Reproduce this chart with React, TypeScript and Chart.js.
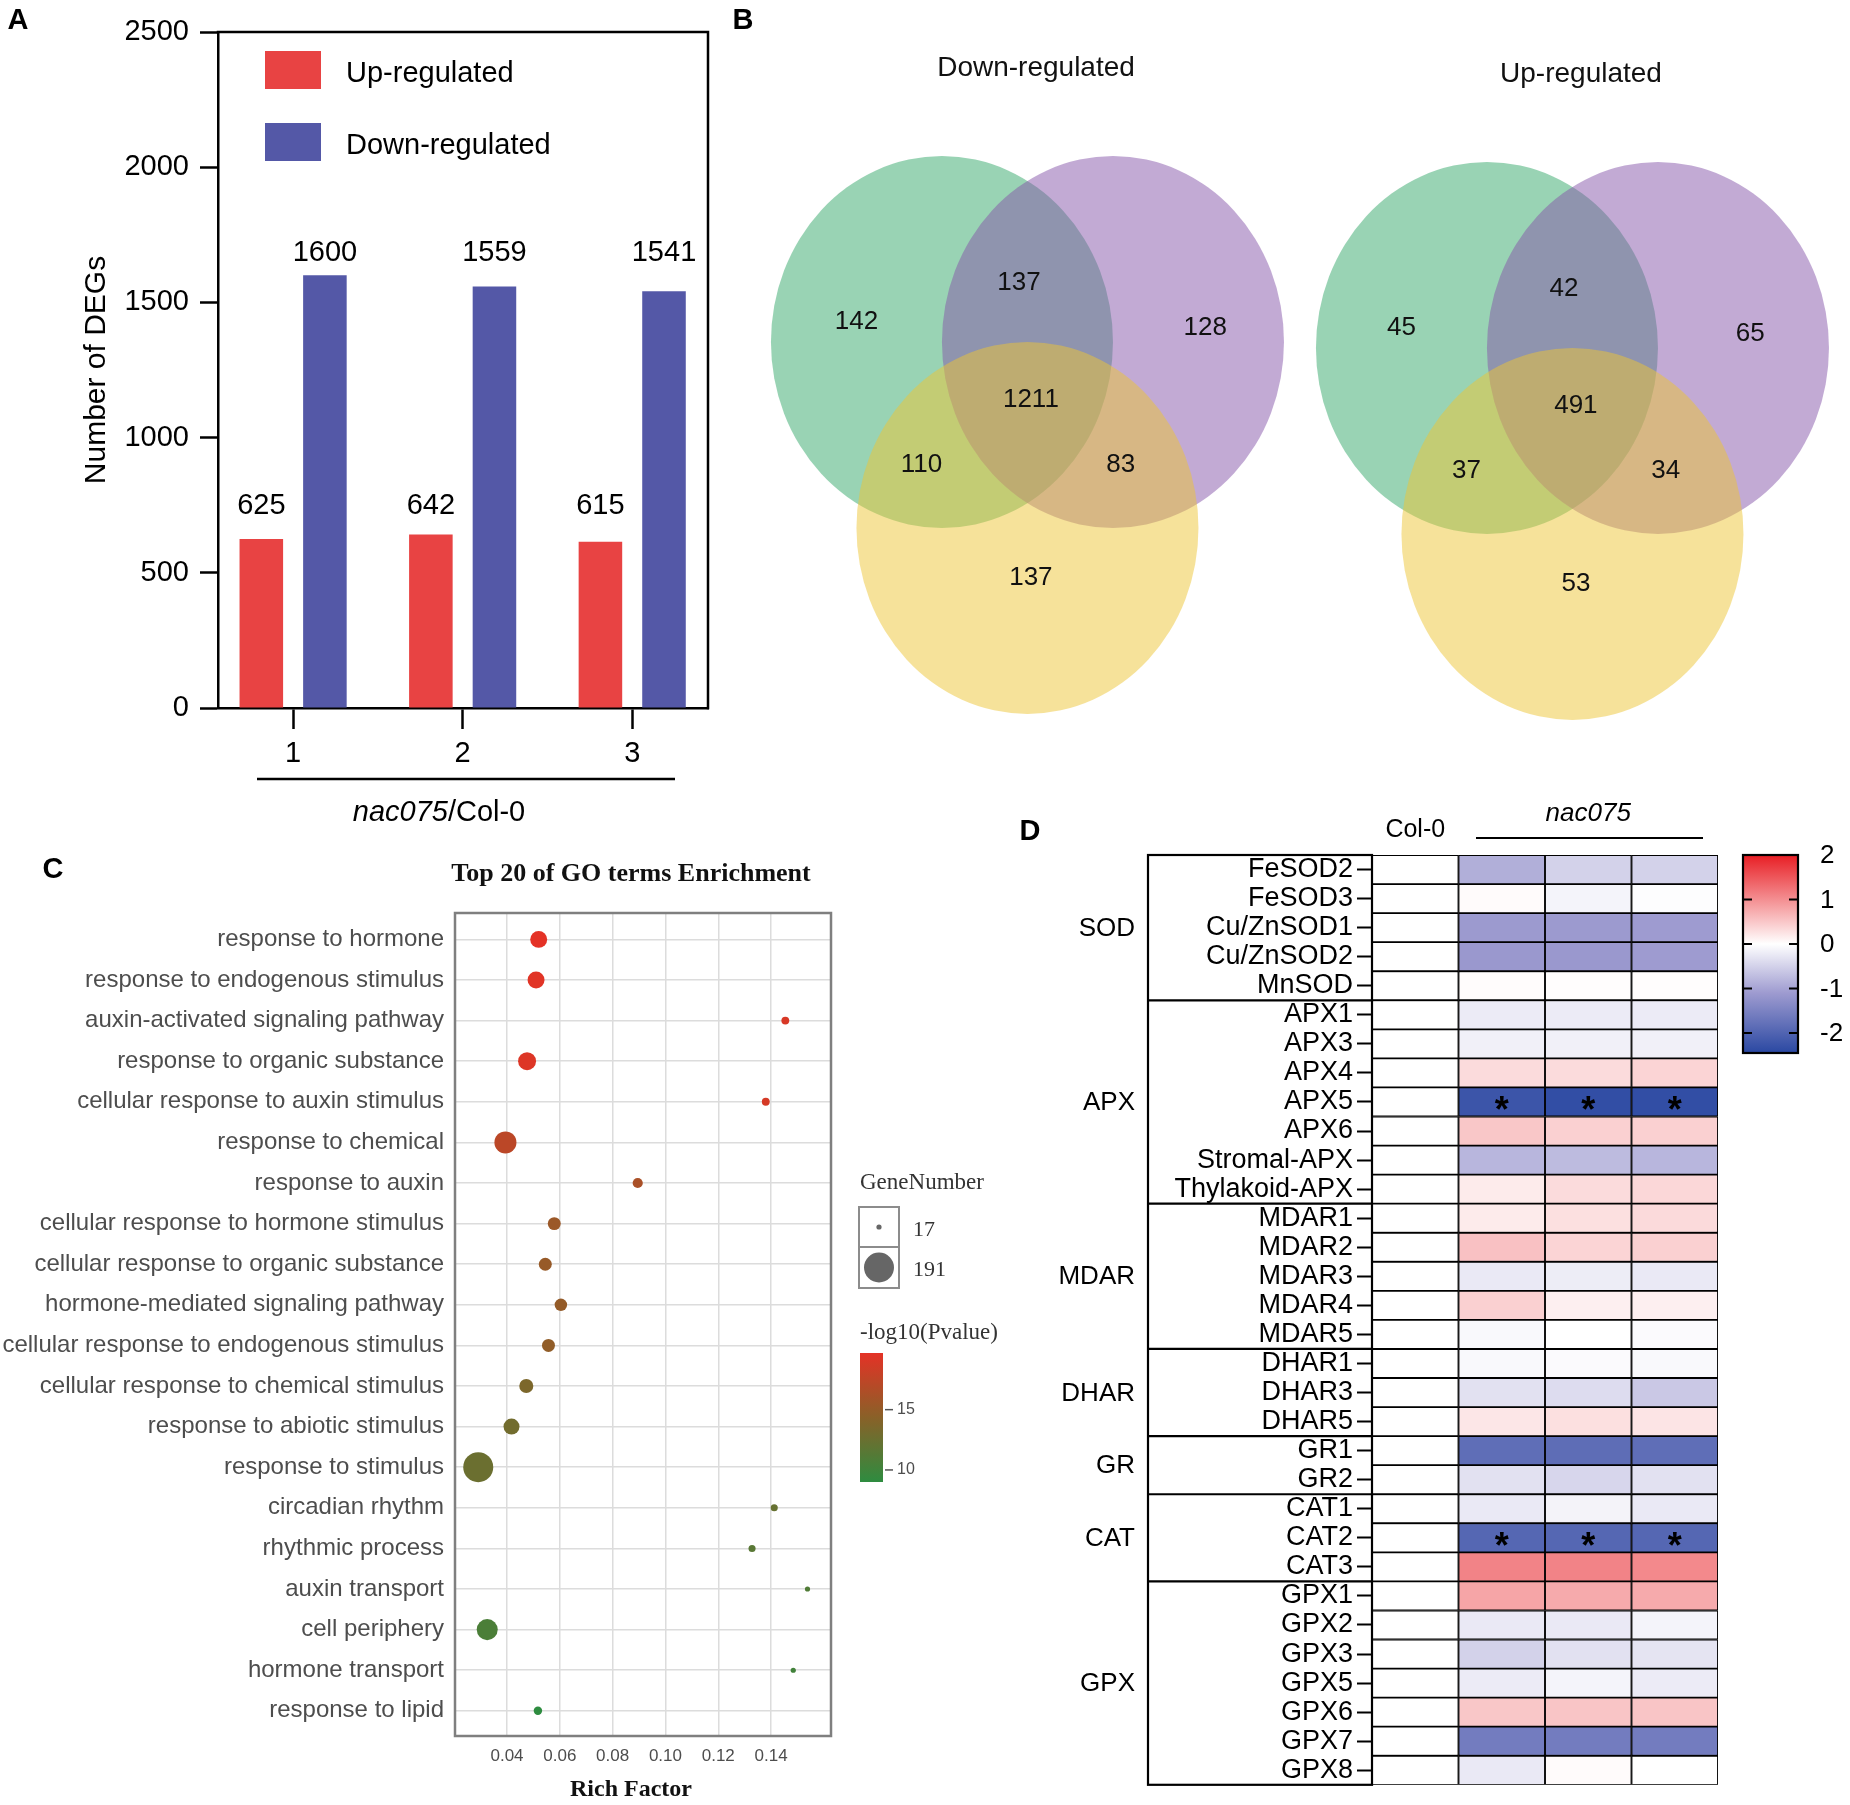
import React, { useEffect, useRef } from "react";
import { Chart, registerables } from "chart.js";

Chart.register(...registerables);

const W = 1850;
const H = 1805;
const SANS = "'Liberation Sans', Arial, Helvetica, sans-serif";
const SERIF = "'Liberation Serif', 'Times New Roman', Times, serif";

/* ================= DATA ================= */
// Panel A
const A_REPLICATES = ["1", "2", "3"];
const A_SERIES = ["Up-regulated", "Down-regulated"];
const A_UP = [625, 642, 615];
const A_DOWN = [1600, 1559, 1541];
const A_Y_TICKS = [0, 500, 1000, 1500, 2000, 2500];
const A_Y_TITLE = "Number of DEGs";
const A_X_TITLE_ITALIC = "nac075";
const A_X_TITLE_REST = "/Col-0";

// Panel B
const VENN_TITLES = ["Down-regulated", "Up-regulated"];
const VENN_REGIONS = ["1 only", "1&2", "2 only", "1&2&3", "1&3", "2&3", "3 only"];
const VENN_DOWN = [142, 137, 128, 1211, 110, 83, 137];
const VENN_UP = [45, 42, 65, 491, 37, 34, 53];

// Panel C
const GO_TITLE = "Top 20 of GO terms Enrichment";
const GO_TERMS = [
  "response to hormone",
  "response to endogenous stimulus",
  "auxin-activated signaling pathway",
  "response to organic substance",
  "cellular response to auxin stimulus",
  "response to chemical",
  "response to auxin",
  "cellular response to hormone stimulus",
  "cellular response to organic substance",
  "hormone-mediated signaling pathway",
  "cellular response to endogenous stimulus",
  "cellular response to chemical stimulus",
  "response to abiotic stimulus",
  "response to stimulus",
  "circadian rhythm",
  "rhythmic process",
  "auxin transport",
  "cell periphery",
  "hormone transport",
  "response to lipid",
];
const GO_RICH = [0.052, 0.051, 0.1454, 0.0476, 0.138, 0.0394, 0.0895, 0.0579, 0.0545, 0.0604, 0.0557, 0.0473, 0.0417, 0.0291, 0.1412, 0.1328, 0.1538, 0.0325, 0.1484, 0.0517];
const GO_GENES = [56, 56, 19, 63, 19, 97, 24, 34, 34, 32, 34, 39, 50, 191, 18, 18, 17, 88, 17, 20];
const GO_LOGP = [19.7, 19.5, 19.0, 19.3, 18.8, 17.3, 16.3, 15.4, 15.2, 15.0, 14.8, 13.6, 13.0, 12.6, 12.3, 11.5, 11.0, 10.7, 10.2, 9.0];
const GO_X_TICKS = [0.04, 0.06, 0.08, 0.1, 0.12, 0.14];
const GO_X_TITLE = "Rich Factor";
const GO_SIZE_TITLE = "GeneNumber";
const GO_SIZE_BREAKS = [17, 191];
const GO_COLOR_TITLE = "-log10(Pvalue)";
const GO_COLOR_BREAKS = [15, 10];

// Panel D
const HEAT_GROUPS = ["SOD", "APX", "MDAR", "DHAR", "GR", "CAT", "GPX"];
const HEAT_GROUP_SIZES = [5, 7, 5, 3, 2, 3, 7];
const HEAT_GENES = [
  "FeSOD2", "FeSOD3", "Cu/ZnSOD1", "Cu/ZnSOD2", "MnSOD",
  "APX1", "APX3", "APX4", "APX5", "APX6", "Stromal-APX", "Thylakoid-APX",
  "MDAR1", "MDAR2", "MDAR3", "MDAR4", "MDAR5",
  "DHAR1", "DHAR3", "DHAR5",
  "GR1", "GR2",
  "CAT1", "CAT2", "CAT3",
  "GPX1", "GPX2", "GPX3", "GPX5", "GPX6", "GPX7", "GPX8",
];
const HEAT_SAMPLES = ["Col-0", "nac075 #1", "nac075 #2", "nac075 #3"];
const HEAT_COL0 = [0, 0, 0, 0, 0, 0, 0, 0, 0, 0, 0, 0, 0, 0, 0, 0, 0, 0, 0, 0, 0, 0, 0, 0, 0, 0, 0, 0, 0, 0, 0, 0];
const HEAT_NAC_1 = [-0.88, 0.04, -1.12, -1.15, 0.03, -0.22, -0.16, 0.32, -2.24, 0.5, -0.8, 0.18, 0.18, 0.55, -0.24, 0.42, -0.07, -0.07, -0.33, 0.22, -1.83, -0.33, -0.24, -1.95, 1.1, 0.8, -0.24, -0.5, -0.22, 0.5, -1.6, -0.24];
const HEAT_NAC_2 = [-0.5, -0.12, -1.12, -1.15, 0.02, -0.22, -0.16, 0.32, -2.36, 0.42, -0.75, 0.32, 0.28, 0.38, -0.2, 0.14, 0, -0.05, -0.38, 0.28, -1.85, -0.45, -0.13, -1.95, 1.1, 0.76, -0.24, -0.33, -0.12, 0.52, -1.6, 0.04];
const HEAT_NAC_3 = [-0.5, -0.02, -1.1, -1.1, 0.02, -0.22, -0.16, 0.38, -2.36, 0.42, -0.8, 0.36, 0.33, 0.42, -0.24, 0.14, -0.05, -0.07, -0.6, 0.24, -1.83, -0.33, -0.24, -1.95, 1.05, 0.76, -0.12, -0.3, -0.22, 0.52, -1.6, 0];
const HEAT_SIGNIFICANT = ["APX5", "CAT2"];
const HEAT_TICKS = [2, 1, 0, -1, -2];
const HEAT_HEADER_COL0 = "Col-0";
const HEAT_HEADER_MUT = "nac075";

/* ================= STYLE / LAYOUT ================= */
const A_RED = "#E84343";
const A_BLUE = "#5458A7";
const VENN_FILL = ["rgba(51,167,105,0.5)", "rgba(133,85,169,0.5)", "rgba(237,197,53,0.5)"];
const VENN_CENTERS = [[0, 0], [1, 0], [0.5, -1]]; // unit-radius layout
const VENN_ANCHORS = [[-0.5, 0.11], [0.45, 0.32], [1.54, 0.075], [0.52, -0.31], [-0.12, -0.66], [1.045, -0.66], [0.52, -1.27]];
const VENN_ORIGINS = [[0, 0], [3.187, -0.032]];
const HEAT_MAX = 2;
const HEAT_MIN = -2.45;
const HEAT_MID_NEG = -1.1;

function txt(ctx: CanvasRenderingContext2D, s: string, x: number, y: number, font: string, color = "#000", align: CanvasTextAlign = "center", base: CanvasTextBaseline = "middle") {
  ctx.font = font;
  ctx.fillStyle = color;
  ctx.textAlign = align;
  ctx.textBaseline = base;
  ctx.fillText(s, x, y);
}

function mix(a: number[], b: number[], t: number) {
  return `rgb(${Math.round(a[0] + (b[0] - a[0]) * t)},${Math.round(a[1] + (b[1] - a[1]) * t)},${Math.round(a[2] + (b[2] - a[2]) * t)})`;
}

const H_WHITE = [255, 255, 255];
const H_RED = [232, 30, 36];
const H_LAV = [158, 155, 208];
const H_BLUE = [42, 72, 162];
function heatColor(v: number) {
  if (v >= 0) return mix(H_WHITE, H_RED, Math.min(v / HEAT_MAX, 1));
  if (v >= HEAT_MID_NEG) return mix(H_WHITE, H_LAV, v / HEAT_MID_NEG);
  return mix(H_LAV, H_BLUE, Math.min((v - HEAT_MID_NEG) / (HEAT_MIN - HEAT_MID_NEG), 1));
}

const GO_LOW = [46, 140, 64];
const GO_MID = [137, 97, 40];
const GO_HIGH = [228, 50, 38];
const LOGP_MIN = Math.min(...GO_LOGP);
const LOGP_MAX = Math.max(...GO_LOGP);
function goColor(p: number) {
  const t = (p - LOGP_MIN) / (LOGP_MAX - LOGP_MIN);
  return t < 0.5 ? mix(GO_LOW, GO_MID, t * 2) : mix(GO_MID, GO_HIGH, (t - 0.5) * 2);
}
const GENE_MIN = Math.min(...GO_GENES);
const GENE_MAX = Math.max(...GO_GENES);
function goRadius(n: number) {
  return 2.6 + 12.4 * Math.sqrt((n - GENE_MIN) / (GENE_MAX - GENE_MIN));
}

const noLegend = { legend: { display: false }, tooltip: { enabled: false } };

/* ================= PANEL A ================= */
function configA(): any {
  const plugin = {
    id: "panelA",
    afterDraw(chart: any) {
      const { ctx, chartArea: ca, scales } = chart;
      const y = scales.y;
      ctx.save();
      ctx.strokeStyle = "#000";
      ctx.lineWidth = 2.5;
      ctx.beginPath();
      ctx.moveTo(ca.left - 1.25, ca.top);
      ctx.lineTo(ca.right, ca.top);
      ctx.lineTo(ca.right, ca.bottom + 1.25);
      ctx.stroke();
      const F = `29px ${SANS}`;
      [A_UP, A_DOWN].forEach((vals, di) => {
        const meta = chart.getDatasetMeta(di);
        const top = y.getPixelForValue(Math.max(...vals));
        const off = di === 0 ? 28 : 22;
        meta.data.forEach((bar: any, i: number) => txt(ctx, String(vals[i]), bar.x, top - off, F));
      });
      // legend
      [A_RED, A_BLUE].forEach((c, i) => {
        const yy = i === 0 ? 51 : 123;
        ctx.fillStyle = c;
        ctx.fillRect(265, yy, 56, 38);
        txt(ctx, A_SERIES[i], 346, yy + 23, F, "#000", "left");
      });
      // y title
      ctx.save();
      ctx.translate(97, (ca.top + ca.bottom) / 2);
      ctx.rotate(-Math.PI / 2);
      txt(ctx, A_Y_TITLE, 0, 0, `30px ${SANS}`);
      ctx.restore();
      // x group line + title
      ctx.beginPath();
      ctx.moveTo(257, 779);
      ctx.lineTo(675, 779);
      ctx.lineWidth = 2.5;
      ctx.stroke();
      const FI = `italic 29px ${SANS}`;
      ctx.font = FI;
      const w1 = ctx.measureText(A_X_TITLE_ITALIC).width;
      ctx.font = F;
      const w2 = ctx.measureText(A_X_TITLE_REST).width;
      const x0 = 439 - (w1 + w2) / 2;
      txt(ctx, A_X_TITLE_ITALIC, x0, 813, FI, "#000", "left");
      txt(ctx, A_X_TITLE_REST, x0 + w1, 813, F, "#000", "left");
      txt(ctx, "A", 18, 21, `bold 29px ${SANS}`);
      ctx.restore();
    },
  };
  return {
    type: "bar",
    data: {
      datasets: [
        { label: A_SERIES[0], data: A_UP.map((v, i) => ({ x: i + 1, y: v })), backgroundColor: A_RED },
        { label: A_SERIES[1], data: A_DOWN.map((v, i) => ({ x: i + 1, y: v })), backgroundColor: A_BLUE },
      ],
    },
    options: {
      responsive: false,
      animation: false,
      devicePixelRatio: 1,
      categoryPercentage: 0.75,
      barPercentage: 0.685,
      layout: { padding: { left: 0, top: 32, right: W - 708, bottom: H - 708 - 60 } },
      plugins: noLegend,
      scales: {
        x: {
          type: "linear",
          min: 0.557,
          max: 3.447,
          offset: false,
          afterBuildTicks: (s: any) => { s.ticks = A_REPLICATES.map((_, i) => ({ value: i + 1 })); },
          afterFit: (s: any) => { s.height = 60; },
          ticks: { callback: (v: number) => A_REPLICATES[Math.round(v) - 1], font: { size: 29, family: SANS }, color: "#000", padding: 8, maxRotation: 0 },
          grid: { offset: false, drawOnChartArea: false, tickLength: 21, tickWidth: 2.5, tickColor: "#000" },
          border: { color: "#000", width: 2.5 },
        },
        y: {
          min: 0,
          max: 2500,
          afterBuildTicks: (s: any) => { s.ticks = A_Y_TICKS.map((v) => ({ value: v })); },
          afterFit: (s: any) => { s.width = 218; },
          ticks: { callback: (v: number) => String(v), font: { size: 29, family: SANS }, color: "#000", padding: 11 },
          grid: { drawOnChartArea: false, tickLength: 18, tickWidth: 2.5, tickColor: "#000" },
          border: { color: "#000", width: 2.5 },
        },
      },
    },
    plugins: [plugin],
  };
}

/* ================= PANEL B ================= */
function configB(): any {
  const plugin = {
    id: "panelB",
    afterDatasetsDraw(chart: any) {
      const { ctx, scales } = chart;
      const xs = scales.x, ys = scales.y;
      ctx.save();
      VENN_ORIGINS.forEach((o, v) => {
        const meta = chart.getDatasetMeta(v);
        meta.data.forEach((pt: any, j: number) => {
          const c = VENN_CENTERS[j];
          const rx = xs.getPixelForValue(o[0] + c[0] + 1) - pt.x;
          const ry = pt.y - ys.getPixelForValue(o[1] + c[1] + 1);
          ctx.beginPath();
          ctx.ellipse(pt.x, pt.y, rx, ry, 0, 0, Math.PI * 2);
          ctx.fillStyle = VENN_FILL[j];
          ctx.fill();
        });
        const counts = v === 0 ? VENN_DOWN : VENN_UP;
        VENN_ANCHORS.forEach((a, k) => {
          txt(ctx, String(counts[k]), xs.getPixelForValue(o[0] + a[0]), ys.getPixelForValue(o[1] + a[1]), `26px ${SANS}`, "#111");
        });
        txt(ctx, VENN_TITLES[v], xs.getPixelForValue(o[0] + 0.55), ys.getPixelForValue(o[1] + 1.47), `28px ${SANS}`, "#111");
      });
      txt(ctx, "B", 743, 21, `bold 29px ${SANS}`);
      ctx.restore();
    },
  };
  return {
    type: "scatter",
    data: {
      datasets: VENN_ORIGINS.map((o, v) => ({
        label: VENN_TITLES[v],
        data: VENN_CENTERS.map((c) => ({ x: o[0] + c[0], y: o[1] + c[1] })),
        pointRadius: 0,
      })),
    },
    options: {
      responsive: false,
      animation: false,
      devicePixelRatio: 1,
      layout: { padding: { left: 740, top: 0, right: 0, bottom: H - 700 } },
      plugins: noLegend,
      scales: {
        x: { type: "linear", min: -1.181, max: 5.31, display: false },
        y: { type: "linear", min: -1.925, max: 1.839, display: false },
      },
    },
    plugins: [plugin],
  };
}

/* ================= PANEL C ================= */
function configC(): any {
  const plugin = {
    id: "panelC",
    afterDraw(chart: any) {
      const { ctx, chartArea: ca } = chart;
      ctx.save();
      ctx.strokeStyle = "#7F7F7F";
      ctx.lineWidth = 2.5;
      ctx.strokeRect(ca.left, ca.top, ca.right - ca.left, ca.bottom - ca.top);
      txt(ctx, GO_TITLE, 631, 874, `bold 26px ${SERIF}`, "#111");
      txt(ctx, GO_X_TITLE, 631, 1790, `bold 24px ${SERIF}`, "#111");
      txt(ctx, "C", 53, 870, `bold 29px ${SANS}`);
      // size legend
      txt(ctx, GO_SIZE_TITLE, 860, 1183, `23px ${SERIF}`, "#333", "left");
      GO_SIZE_BREAKS.forEach((n, i) => {
        const top = i === 0 ? 1207 : 1247;
        const hgt = i === 0 ? 40 : 41;
        ctx.fillStyle = "#fff";
        ctx.fillRect(859, top, 40, hgt);
        ctx.strokeStyle = "#8C8C8C";
        ctx.lineWidth = 2;
        ctx.strokeRect(859, top, 40, hgt);
        ctx.beginPath();
        ctx.arc(879, top + hgt / 2, goRadius(n), 0, Math.PI * 2);
        ctx.fillStyle = "#666";
        ctx.fill();
        txt(ctx, String(n), 913, top + hgt / 2 + 3, `22px ${SERIF}`, "#333", "left");
      });
      // colour legend
      txt(ctx, GO_COLOR_TITLE, 860, 1333, `23px ${SERIF}`, "#333", "left");
      const bTop = 1353, bBot = 1482, bL = 860, bR = 883;
      const g = ctx.createLinearGradient(0, bBot, 0, bTop);
      g.addColorStop(0, mix(GO_LOW, GO_LOW, 0));
      g.addColorStop(0.5, mix(GO_MID, GO_MID, 0));
      g.addColorStop(1, mix(GO_HIGH, GO_HIGH, 0));
      ctx.fillStyle = g;
      ctx.fillRect(bL, bTop, bR - bL, bBot - bTop);
      GO_COLOR_BREAKS.forEach((v) => {
        const yy = bBot - ((v - LOGP_MIN) / (LOGP_MAX - LOGP_MIN)) * (bBot - bTop);
        ctx.beginPath();
        ctx.moveTo(bR + 2, yy);
        ctx.lineTo(bR + 10, yy);
        ctx.strokeStyle = "#555";
        ctx.lineWidth = 1.5;
        ctx.stroke();
        txt(ctx, String(v), bR + 14, yy, `16px ${SANS}`, "#4D4D4D", "left");
      });
      ctx.restore();
    },
  };
  return {
    type: "bubble",
    data: {
      datasets: [
        {
          label: "GO",
          data: GO_TERMS.map((_, i) => ({ x: GO_RICH[i], y: i, r: goRadius(GO_GENES[i]) })),
          backgroundColor: GO_LOGP.map(goColor),
          borderWidth: 0,
        },
      ],
    },
    options: {
      responsive: false,
      animation: false,
      devicePixelRatio: 1,
      layout: { padding: { left: 0, top: 913, right: W - 831, bottom: H - 1736 - 50 } },
      plugins: noLegend,
      scales: {
        x: {
          type: "linear",
          min: 0.0203,
          max: 0.1627,
          afterBuildTicks: (s: any) => { s.ticks = GO_X_TICKS.map((v) => ({ value: v })); },
          afterFit: (s: any) => { s.height = 50; },
          ticks: { callback: (v: number) => v.toFixed(2), font: { size: 17, family: SANS }, color: "#4D4D4D", padding: 10, maxRotation: 0 },
          grid: { color: "#DCDCDC", lineWidth: 1.5, drawTicks: false },
          border: { display: false },
        },
        y: {
          type: "linear",
          min: -0.65,
          max: 19.62,
          reverse: true,
          afterBuildTicks: (s: any) => { s.ticks = GO_TERMS.map((_, i) => ({ value: i })); },
          afterFit: (s: any) => { s.width = 455; },
          ticks: { callback: (v: number) => GO_TERMS[Math.round(v)], font: { size: 24, family: SANS }, color: "#4D4D4D", padding: 11, autoSkip: false },
          grid: { color: "#DCDCDC", lineWidth: 1.5, drawTicks: false },
          border: { display: false },
        },
      },
    },
    plugins: [plugin],
  };
}

/* ================= PANEL D ================= */
function configD(): any {
  const columns = [HEAT_COL0, HEAT_NAC_1, HEAT_NAC_2, HEAT_NAC_3];
  const plugin = {
    id: "panelD",
    afterDraw(chart: any) {
      const { ctx, chartArea: ca, scales } = chart;
      const ys = scales.y, xs = scales.x;
      const rowH = ys.getPixelForValue(1) - ys.getPixelForValue(0);
      ctx.save();
      ctx.strokeStyle = "#000";
      ctx.lineWidth = 2.2;
      const boxL = 1148;
      ctx.strokeRect(boxL, ca.top, ca.left - boxL, ca.bottom - ca.top);
      let start = 0;
      HEAT_GROUPS.forEach((gname, gi) => {
        const n = HEAT_GROUP_SIZES[gi];
        const end = start + n - 1;
        const yMid = (ys.getPixelForValue(start) + ys.getPixelForValue(end)) / 2;
        txt(ctx, gname, 1135, yMid + 1, `26px ${SANS}`, "#000", "right");
        if (gi < HEAT_GROUPS.length - 1) {
          const yb = ys.getPixelForValue(end) + rowH / 2;
          ctx.beginPath();
          ctx.moveTo(boxL, yb);
          ctx.lineTo(ca.left, yb);
          ctx.stroke();
        }
        start += n;
      });
      // significance stars
      HEAT_SIGNIFICANT.forEach((g) => {
        const r = HEAT_GENES.indexOf(g);
        for (let c = 1; c < columns.length; c++) {
          txt(ctx, "*", xs.getPixelForValue(c + 0.5), ys.getPixelForValue(r) + 20, `bold 36px ${SANS}`, "#000", "center", "alphabetic");
        }
      });
      // headers
      txt(ctx, HEAT_HEADER_COL0, xs.getPixelForValue(0.5), 830, `25px ${SANS}`);
      txt(ctx, HEAT_HEADER_MUT, xs.getPixelForValue(2.5), 814, `italic 26px ${SANS}`);
      ctx.beginPath();
      ctx.moveTo(1476, 838);
      ctx.lineTo(1703, 838);
      ctx.lineWidth = 2;
      ctx.stroke();
      txt(ctx, "D", 1030, 832, `bold 29px ${SANS}`);
      // colour bar
      const cL = 1743, cR = 1798, cT = 855, cB = 1053;
      const frac = (v: number) => (HEAT_MAX - v) / (HEAT_MAX - HEAT_MIN);
      const py = (v: number) => cT + frac(v) * (cB - cT);
      const g = ctx.createLinearGradient(0, cT, 0, cB);
      [HEAT_MAX, 0, HEAT_MID_NEG, HEAT_MIN].forEach((v) => g.addColorStop(frac(v), heatColor(v)));
      ctx.fillStyle = g;
      ctx.fillRect(cL, cT, cR - cL, cB - cT);
      ctx.lineWidth = 2.2;
      ctx.strokeRect(cL, cT, cR - cL, cB - cT);
      HEAT_TICKS.forEach((v) => {
        const yy = py(v);
        if (v < HEAT_MAX) {
          ctx.beginPath();
          ctx.moveTo(cL, yy); ctx.lineTo(cL + 9, yy);
          ctx.moveTo(cR - 9, yy); ctx.lineTo(cR, yy);
          ctx.lineWidth = 2;
          ctx.stroke();
        }
        txt(ctx, String(v), 1820, yy + 1, `26px ${SANS}`, "#000", "left");
      });
      ctx.restore();
    },
  };
  return {
    type: "bar",
    data: {
      labels: HEAT_GENES,
      datasets: columns.map((vals, c) => ({
        label: HEAT_SAMPLES[c],
        data: vals.map(() => [c, c + 1]),
        backgroundColor: vals.map(heatColor),
        borderColor: "#000",
        borderWidth: 1.25,
        borderSkipped: false,
        grouped: false,
        barPercentage: 1,
        categoryPercentage: 1,
      })),
    },
    options: {
      indexAxis: "y",
      responsive: false,
      animation: false,
      devicePixelRatio: 1,
      layout: { padding: { left: 0, top: 855, right: W - 1718, bottom: H - 1790 } },
      plugins: noLegend,
      scales: {
        x: { type: "linear", min: 0, max: 4, display: false },
        y: {
          type: "category",
          offset: true,
          afterFit: (s: any) => { s.width = 1372; },
          ticks: { autoSkip: false, font: { size: 27, family: SANS }, color: "#000", padding: 4 },
          grid: { offset: false, drawOnChartArea: false, tickLength: 15, tickWidth: 2, tickColor: "#000" },
          border: { display: false },
        },
      },
    },
    plugins: [plugin],
  };
}

function useChart(factory: () => any) {
  const ref = useRef<HTMLCanvasElement>(null);
  useEffect(() => {
    if (!ref.current) return;
    const chart = new Chart(ref.current, factory());
    return () => chart.destroy();
  }, []);
  return ref;
}

export default function App() {
  const a = useChart(configA);
  const b = useChart(configB);
  const c = useChart(configC);
  const d = useChart(configD);
  const cs: React.CSSProperties = { position: "absolute", left: 0, top: 0, width: W, height: H };
  return (
    <div style={{ position: "absolute", left: 0, top: 0, width: W, height: H, background: "#fff", overflow: "hidden" }}>
      <canvas ref={b} width={W} height={H} style={cs} />
      <canvas ref={a} width={W} height={H} style={cs} />
      <canvas ref={c} width={W} height={H} style={cs} />
      <canvas ref={d} width={W} height={H} style={cs} />
    </div>
  );
}
